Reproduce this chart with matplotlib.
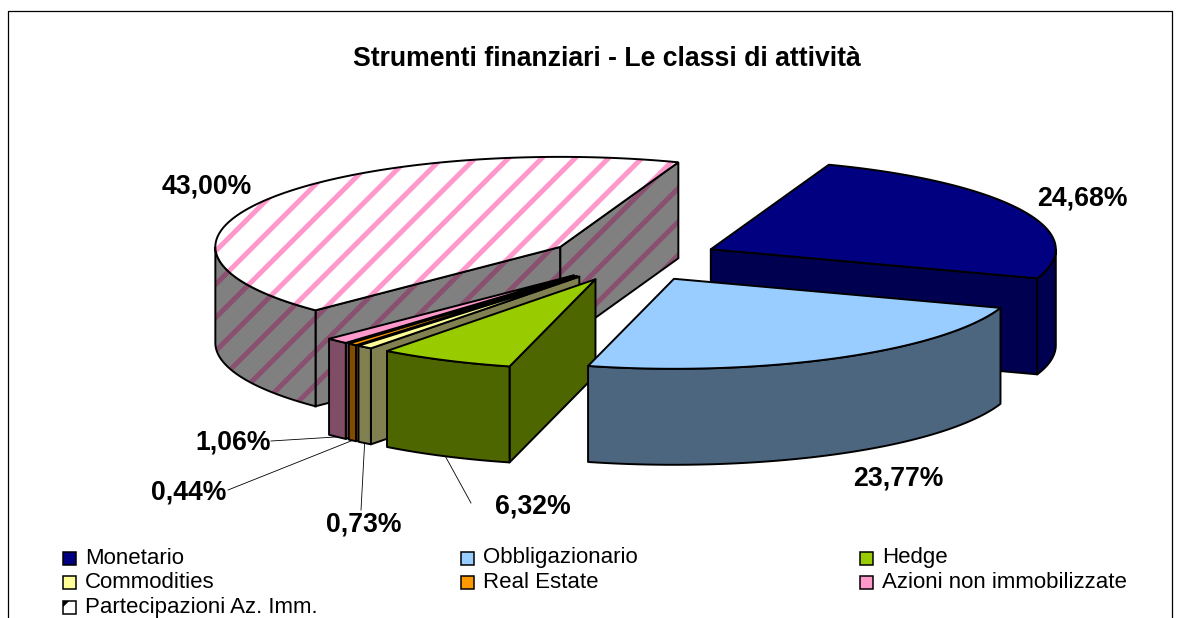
"""Torta 3D esplosa: classi di attività, disegnata con poligoni calcolati dai valori."""

import matplotlib

matplotlib.use("Agg")
import matplotlib.pyplot as plt
import numpy as np
from matplotlib.patches import Polygon, Rectangle

TITLE = "Strumenti finanziari - Le classi di attività"
CATEGORIES = [
    "Monetario",
    "Obbligazionario",
    "Hedge",
    "Commodities",
    "Real Estate",
    "Azioni non immobilizzate",
    "Partecipazioni Az. Imm.",
]
SHARES = [24.68, 23.77, 6.32, 0.73, 0.44, 1.06, 43.00]
LABELS = ["24,68%", "23,77%", "6,32%", "0,73%", "0,44%", "1,06%", "43,00%"]
TOP_COLORS = ["#000080", "#99CCFF", "#99CC00", "#FFFF99", "#FF9900", "#FF99CC", "#FFFFFF"]
WALL_COLORS = ["#000050", "#4D6680", "#4D6600", "#808050", "#804D00", "#804D66", "#808080"]

START_ANGLE = 20.0
CX, CY = 633, 259
RX, RY = 345, 90
DEPTH = 96
EXPLODE = 0.25
DRAW_ORDER = [6, 5, 4, 3, 0, 2, 1]

# posizione del testo (centro) e, per le etichette piccole, inizio della linea guida
LABEL_POS = [(1082, 199), (898, 478), (533, 506), (364, 524), (189, 492), (233, 442), (207, 187)]
LEADER_START = {2: (471, 503), 3: (361, 510), 4: (228, 490), 5: (271, 441)}

LEGEND_X = [63, 461, 860]
LEGEND_Y = [558, 582, 607]

plt.rcParams["font.family"] = ["Liberation Sans", "DejaVu Sans"]
plt.rcParams["hatch.linewidth"] = 3.6


def ellipse_point(apex, t):
    rad = np.radians(t)
    return np.array([apex[0] + RX * np.sin(rad), apex[1] - RY * np.cos(rad)])


def draw_face(ax, points, color, hatch_color=None, zorder=2):
    if hatch_color:
        ax.add_patch(Polygon(points, closed=True, facecolor=color, edgecolor=hatch_color,
                             hatch="/", linewidth=0, zorder=zorder))
        ax.add_patch(Polygon(points, closed=True, fill=False, edgecolor="black", linewidth=1.4, zorder=zorder))
    else:
        ax.add_patch(Polygon(points, closed=True, facecolor=color, edgecolor="black", linewidth=1.4,
                             joinstyle="round", zorder=zorder))


def draw_slice(ax, idx, t0, t1, z):
    mid = (t0 + t1) / 2
    apex = np.array([CX + EXPLODE * RX * np.sin(np.radians(mid)), CY - EXPLODE * RY * np.cos(np.radians(mid))])
    drop = np.array([0, DEPTH])
    hatch_wall = "#8A5070" if idx == 6 else None
    hatch_top = "#FF99CC" if idx == 6 else None

    # pareti di taglio visibili
    p0, p1 = ellipse_point(apex, t0), ellipse_point(apex, t1)
    if p0[0] < apex[0]:
        draw_face(ax, [apex, p0, p0 + drop, apex + drop], WALL_COLORS[idx], hatch_wall, z)
    if p1[0] > apex[0]:
        draw_face(ax, [apex, p1, p1 + drop, apex + drop], WALL_COLORS[idx], hatch_wall, z)

    # parete esterna: solo la parte frontale
    wall_from, wall_to = max(t0, 90), min(t1, 270)
    if wall_from < wall_to:
        ts = np.linspace(wall_from, wall_to, 60)
        arc = np.array([ellipse_point(apex, t) for t in ts])
        draw_face(ax, np.vstack([arc, arc[::-1] + drop]), WALL_COLORS[idx], hatch_wall, z + 0.1)

    # faccia superiore
    ts = np.linspace(t0, t1, 120)
    arc = np.array([ellipse_point(apex, t) for t in ts])
    draw_face(ax, np.vstack([[apex], arc]), TOP_COLORS[idx], hatch_top, z + 0.2)
    return apex


fig = plt.figure(figsize=(11.82, 6.18), dpi=100)
ax = fig.add_axes([0, 0, 1, 1])
ax.set_xlim(0, 1182)
ax.set_ylim(618, 0)
ax.axis("off")

ax.plot([8, 8, 1172, 1172], [618, 11, 11, 618], color="black", lw=0.9, zorder=1)
ax.text(607, 59, TITLE, fontsize=19.2, fontweight="bold", ha="center", va="center")

angles = START_ANGLE + np.cumsum([0] + SHARES) * 3.6
apexes = {}
for z, idx in enumerate(DRAW_ORDER):
    apexes[idx] = draw_slice(ax, idx, angles[idx], angles[idx + 1], 2 + z)

for idx, start in LEADER_START.items():
    mid = (angles[idx] + angles[idx + 1]) / 2
    end = ellipse_point(apexes[idx], mid) + np.array([0, DEPTH])
    ax.plot([start[0], end[0]], [start[1], end[1]], color="black", lw=0.6, zorder=20)

for label, (x, y) in zip(LABELS, LABEL_POS):
    ax.text(x, y, label, fontsize=19.2, fontweight="bold", ha="center", va="center", zorder=21)

for i, name in enumerate(CATEGORIES):
    row, col = divmod(i, 3)
    x, y = LEGEND_X[col], LEGEND_Y[row]
    ax.add_patch(Rectangle((x, y - 6), 13, 13, facecolor=TOP_COLORS[i], edgecolor="black", linewidth=1.1,
                           hatch="/" if i == 6 else None, zorder=20))
    ax.text(x + 22, y, name, fontsize=16, ha="left", va="center", zorder=21)

fig.savefig("out.png", dpi=100, facecolor="white")
